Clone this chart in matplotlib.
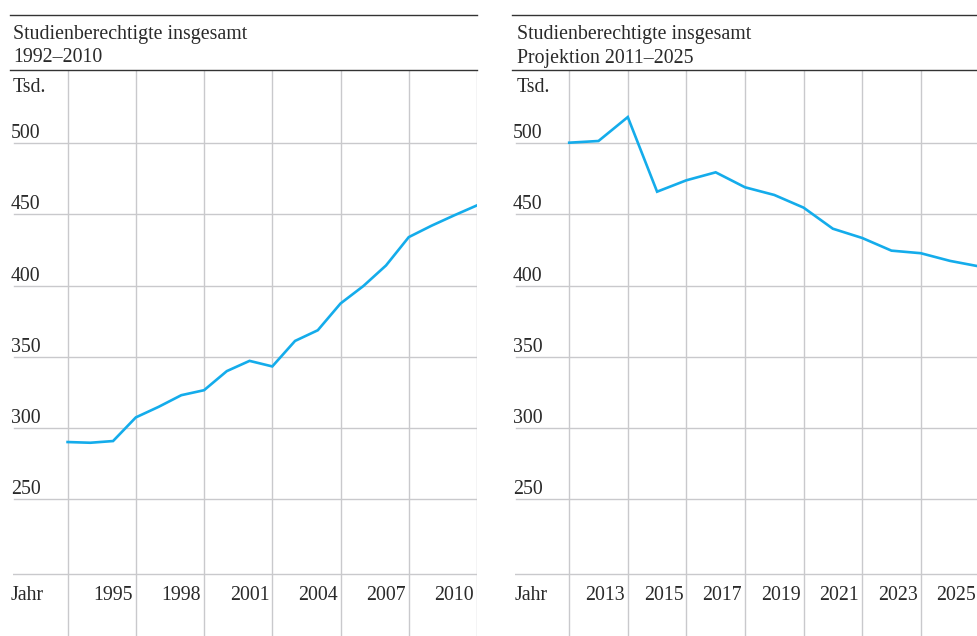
import matplotlib.pyplot as plt
from matplotlib.transforms import blended_transform_factory, offset_copy

# data (Tsd.)
years_hist = list(range(1992, 2011))
values_hist = [290.2, 289.7, 290.9, 307.5, 314.9, 323.1, 326.6, 340.0, 347.2, 343.3,
               361.2, 368.7, 387.5, 399.7, 414.2, 434.1, 442.1, 449.4, 456.4]
years_proj = list(range(2011, 2026))
values_proj = [500.4, 501.6, 518.4, 466.0, 474.0, 479.6, 469.1, 463.7, 454.8,
               440.0, 433.5, 424.6, 422.8, 417.4, 413.5]

titles = [["Studienberechtigte insgesamt", "1992\u20132010"],
          ["Studienberechtigte insgesamt", "Projektion 2011\u20132025"]]
xticks_hist = [1995, 1998, 2001, 2004, 2007, 2010]
xgrid_hist = [1992, 1995, 1998, 2001, 2004, 2007, 2010]
xticks_proj = [2013, 2015, 2017, 2019, 2021, 2023, 2025]
xgrid_proj = [2011, 2013, 2015, 2017, 2019, 2021, 2023, 2025]
yticks = [250, 300, 350, 400, 450, 500]

plt.rcParams["font.family"] = ["Liberation Serif", "DejaVu Serif"]
LINE = "#14aceb"
GRID = "#c9c9cc"
TEXT = "#2a2a2a"
FS = 14.3

W, H = 977, 636
fig = plt.figure(figsize=(W / 100, H / 100), dpi=100)

panels = [
    dict(x0=13, x1=477, xlim=(1989.6, 2010.0), years=years_hist, vals=values_hist,
         ticks=xticks_hist, grid=xgrid_hist, title=titles[0], rule=(10, 477), tx=11),
    dict(x0=515, x1=977, xlim=(2009.15, 2024.92), years=years_proj, vals=values_proj,
         ticks=xticks_proj, grid=xgrid_proj, title=titles[1], rule=(512, 977), tx=515),
]

top_px, bottom_px = 69.5, 636
ylim = (154.0, 551.8)
base = 197.3

for p in panels:
    ax = fig.add_axes([p["x0"] / W, 1 - bottom_px / H, (p["x1"] - p["x0"]) / W,
                       (bottom_px - top_px) / H])
    ax.set_xlim(*p["xlim"])
    ax.set_ylim(*ylim)
    ax.axis("off")
    for g in p["grid"]:
        ax.axvline(g, color=GRID, lw=1.0, zorder=1)
    for v in yticks:
        ax.axhline(v, xmin=0.003, color=GRID, lw=1.0, zorder=1)
    ax.axhline(base, color=GRID, lw=1.0, zorder=1)
    ax.plot(p["years"], p["vals"], color=LINE, lw=1.9, zorder=3,
            solid_joinstyle="miter")

    trans = offset_copy(blended_transform_factory(ax.transAxes, ax.transData),
                        fig=fig, x=-2, y=5, units="dots")
    for v in yticks:
        ax.text(0, v, str(v), transform=trans, ha="left", va="baseline",
                fontsize=FS, color=TEXT)
    # tick labels sit right-aligned left of their year
    ltrans = offset_copy(ax.transData, fig=fig, x=-3, y=0, units="dots")
    for t in p["ticks"]:
        ax.text(t, 179.5, str(t), transform=ltrans, ha="right", va="baseline",
                fontsize=FS, color=TEXT, clip_on=False)

    tx = p["tx"] / W
    fig.text(tx, 1 - 600 / H, "Jahr", ha="left", va="baseline", fontsize=FS, color=TEXT)
    fig.text(tx + 2 / W, 1 - 91.5 / H, "Tsd.", ha="left", va="baseline", fontsize=FS, color=TEXT)
    fig.text(tx + 2 / W, 1 - 39 / H, p["title"][0], ha="left", va="baseline",
             fontsize=FS, color=TEXT)
    fig.text(tx + 2 / W, 1 - 62.5 / H, p["title"][1], ha="left", va="baseline",
             fontsize=FS, color=TEXT)
    r0, r1 = p["rule"]
    fig.add_artist(plt.Line2D([r0 / W, r1 / W], [1 - 15 / H, 1 - 15 / H],
                              color="#333333", lw=1.0))
    fig.add_artist(plt.Line2D([r0 / W, r1 / W], [1 - 69.5 / H, 1 - 69.5 / H],
                              color="#333333", lw=1.0))

fig.savefig("out.png", dpi=100)
